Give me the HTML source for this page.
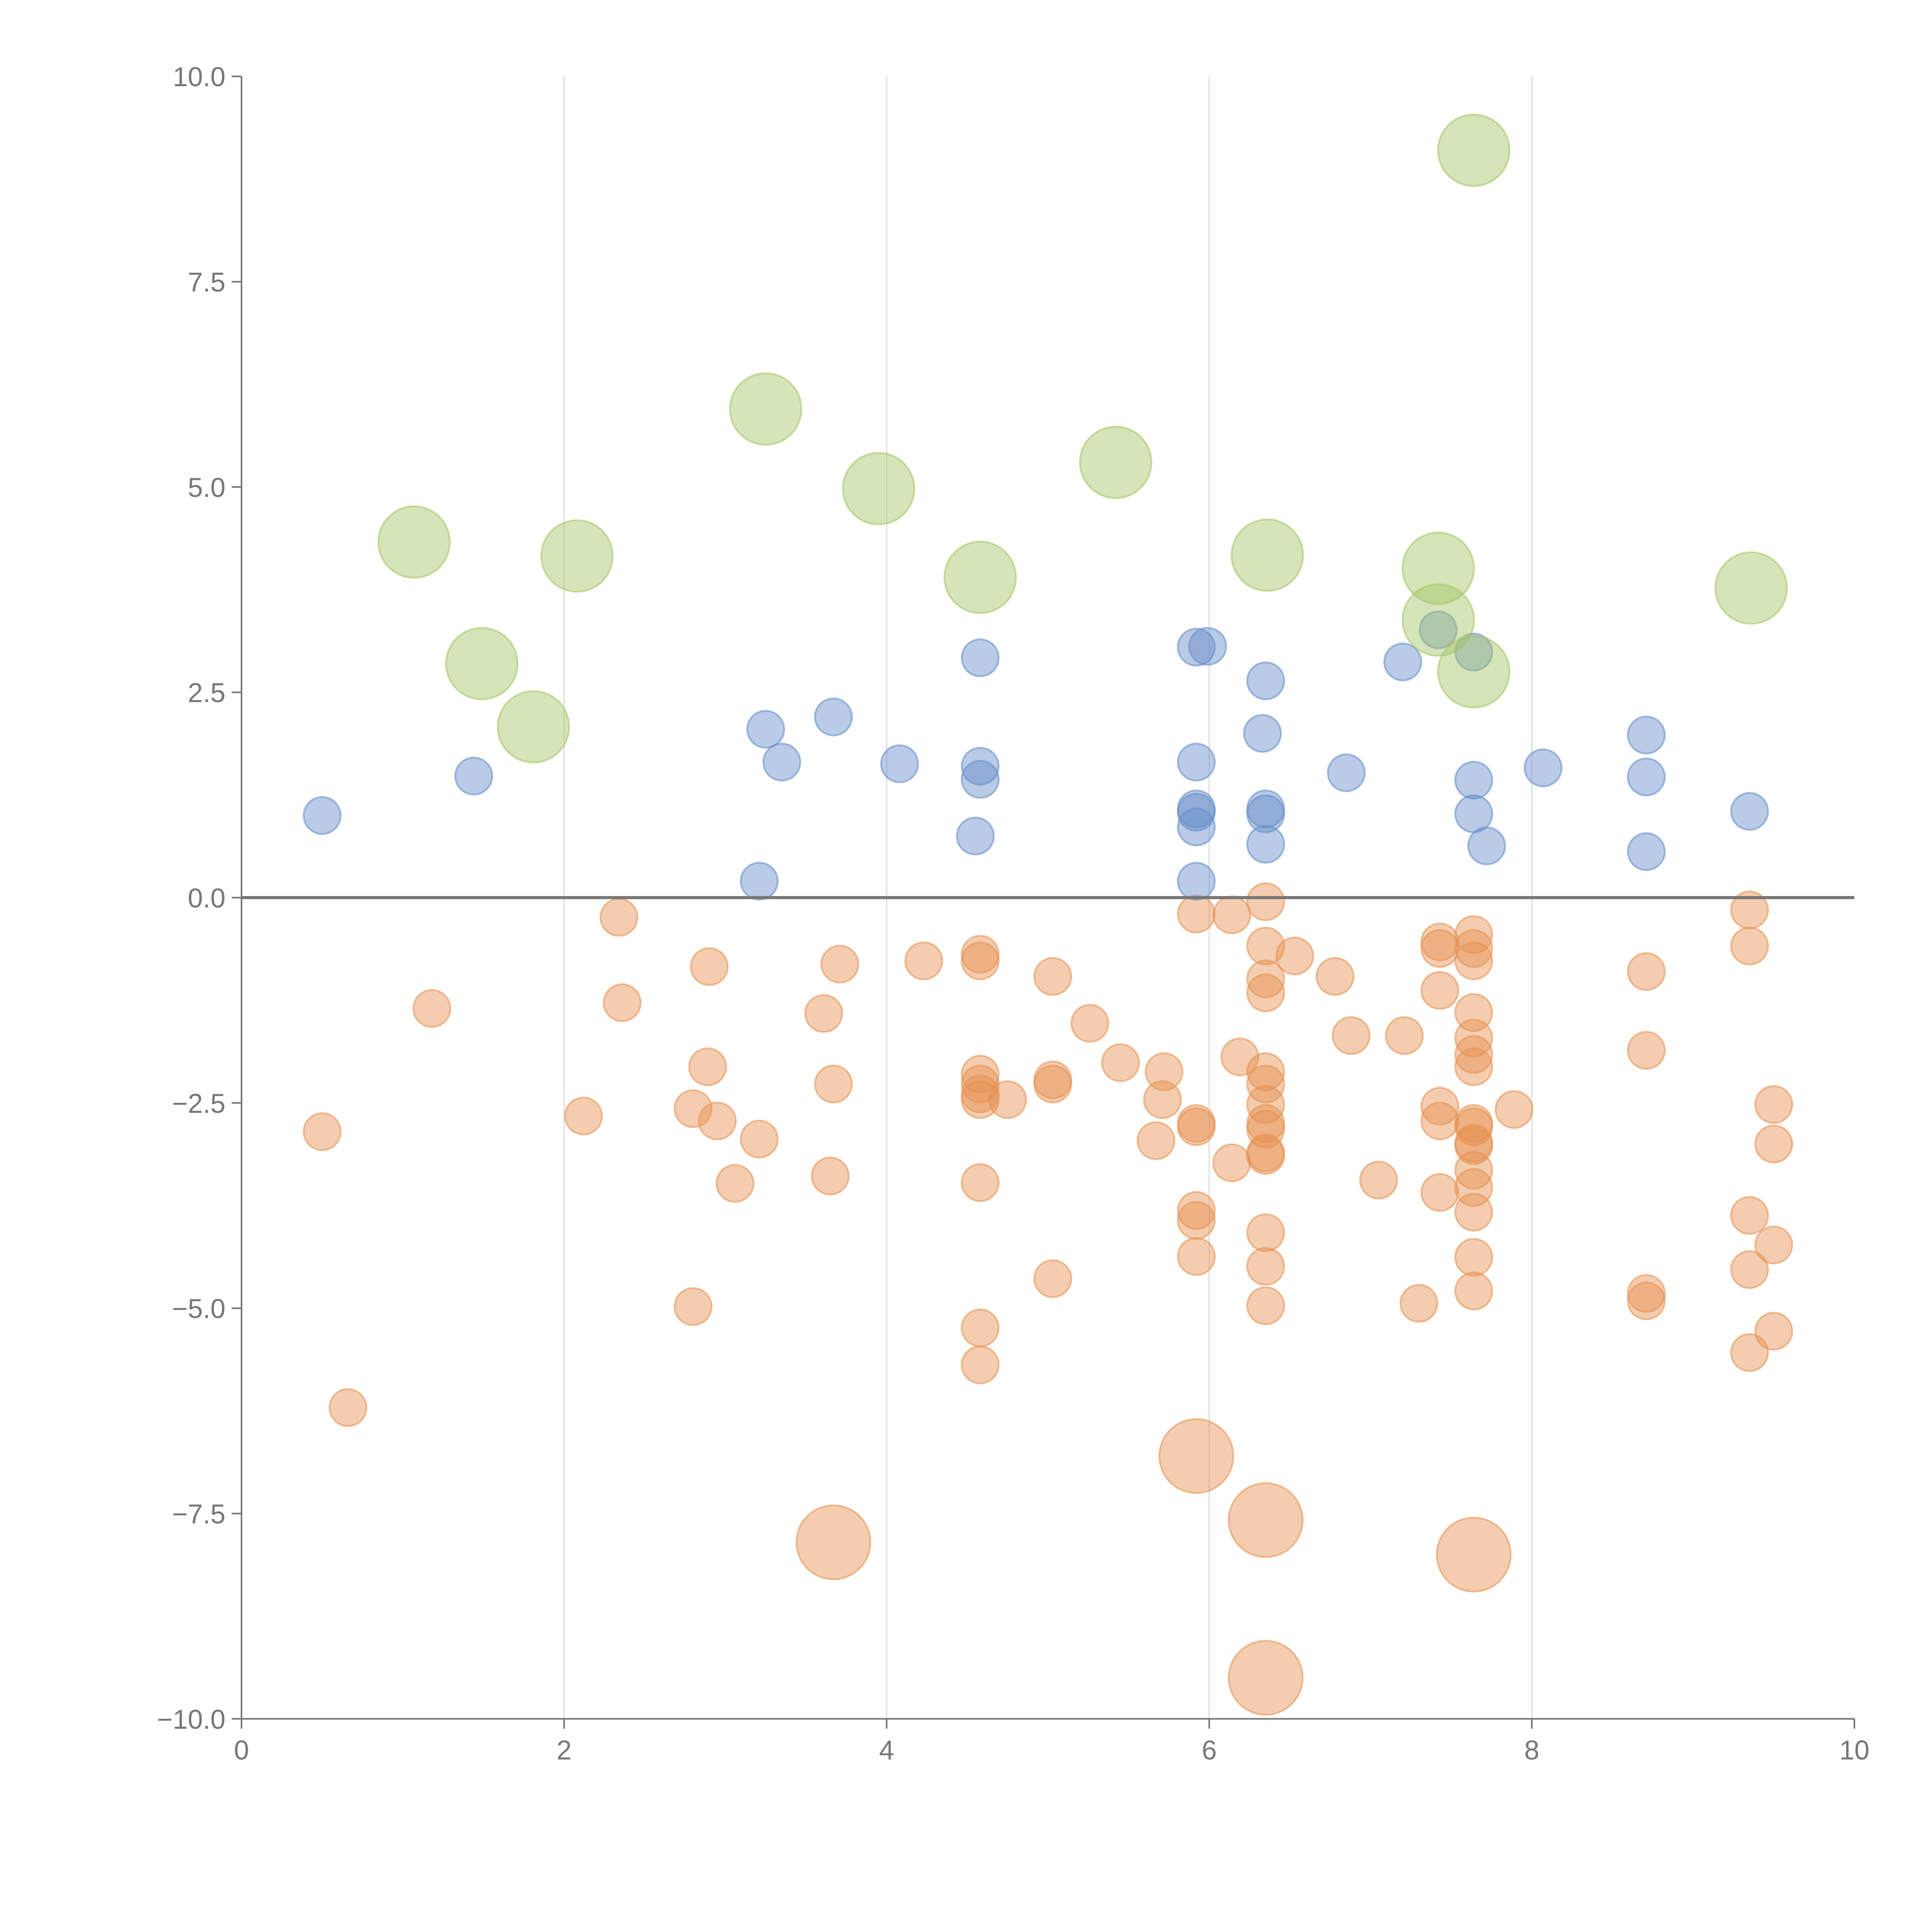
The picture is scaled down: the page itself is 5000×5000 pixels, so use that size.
<!DOCTYPE html>
<html><head><meta charset="utf-8"><style>
html,body{margin:0;padding:0;background:#fff}
svg{display:block}
text{font-family:"Liberation Sans",sans-serif;fill:#777}
</style></head><body>
<svg id="chart" width="5000" height="5000" viewBox="0 0 1568 1568" xmlns="http://www.w3.org/2000/svg">
<g id="grid"></g>
<g id="marks"></g>
<g id="axes"></g>
</svg>
<script>
const xTicks=[0,2,4,6,8,10];
const yTicks=[10,7.5,5,2.5,0,-2.5,-5,-7.5,-10];
const yTickLabels=["10.0","7.5","5.0","2.5","0.0","\u22122.5","\u22125.0","\u22127.5","\u221210.0"];
const greenX=[1.07,1.49,1.81,2.08,3.25,3.95,4.58,5.42,6.36,7.42,7.42,7.64,7.64,9.36];
const greenY=[4.33,2.85,2.08,4.16,5.95,4.98,3.9,5.3,4.17,4.01,3.38,2.75,9.1,3.77];
const blueX=[0.5,1.44,3.21,3.25,3.35,3.67,4.08,4.55,4.58,4.58,4.58,5.92,5.99,5.92,5.92,5.92,5.92,5.92,6.35,6.33,6.35,6.35,6.35,6.85,7.2,7.42,7.64,7.64,7.64,7.72,8.07,8.71,8.71,8.71,9.35];
const blueY=[1.0,1.48,0.2,2.05,1.65,2.2,1.63,0.75,2.92,1.6,1.44,3.05,3.06,1.65,1.08,1.04,0.86,0.2,2.64,2.0,1.08,1.02,0.65,1.52,2.87,3.26,2.99,1.43,1.02,0.63,1.58,1.98,1.47,0.56,1.05];
const orangeX=[0.5,0.66,1.18,2.34,2.36,2.12,2.9,2.89,2.8,2.95,3.06,3.21,2.8,3.61,3.71,3.67,3.65,4.23,4.58,4.58,4.58,4.58,4.58,4.58,4.75,4.58,4.58,4.58,5.03,5.26,5.03,5.03,5.45,5.03,5.72,5.71,5.67,5.92,5.92,5.92,5.92,5.92,5.92,6.14,6.19,6.14,6.35,6.35,6.35,6.35,6.53,6.35,6.35,6.35,6.35,6.35,6.35,6.35,6.35,6.35,6.35,6.78,6.88,7.21,7.05,7.3,7.43,7.43,7.43,7.43,7.43,7.43,7.64,7.64,7.64,7.64,7.64,7.64,7.64,7.64,7.64,7.64,7.64,7.64,7.64,7.64,7.64,7.64,7.89,8.71,8.71,8.71,8.71,9.35,9.35,9.5,9.5,9.35,9.5,9.35,9.5,9.35];
const orangeY=[-2.85,-6.21,-1.35,-0.24,-1.28,-2.66,-0.84,-2.06,-2.57,-2.72,-3.48,-2.94,-4.98,-1.41,-0.81,-2.27,-3.39,-0.77,-0.69,-0.77,-2.15,-2.27,-2.39,-2.46,-2.46,-3.47,-5.24,-5.69,-0.96,-1.53,-2.22,-2.27,-2.01,-4.64,-2.12,-2.46,-2.96,-0.2,-2.75,-2.79,-3.81,-3.93,-4.37,-0.21,-1.94,-3.23,-0.05,-0.59,-0.99,-1.16,-0.71,-2.12,-2.27,-2.52,-2.75,-2.82,-3.11,-3.14,-4.08,-4.49,-4.97,-0.96,-1.68,-1.68,-3.44,-4.94,-0.54,-0.62,-1.13,-2.54,-2.72,-3.59,-0.45,-0.62,-0.77,-1.4,-1.71,-1.91,-2.06,-2.75,-2.79,-2.99,-3.02,-3.32,-3.53,-3.83,-4.38,-4.79,-2.58,-0.9,-1.86,-4.82,-4.91,-0.15,-0.59,-2.52,-3.0,-3.87,-4.23,-4.53,-5.28,-5.54];
const bigOrangeX=[3.67,5.92,6.35,7.64,6.35];
const bigOrangeY=[-7.85,-6.8,-7.58,-8.0,-9.5];

const NS="http://www.w3.org/2000/svg";
const X0=196,X1=1505,Y0=1395,Y1=62;
function sx(v){return X0+(v-0)/(10-0)*(X1-X0);}
function sy(v){return Y0-(v+10)/20*(Y0-Y1);}
function mk(tag,attrs,parent){const e=document.createElementNS(NS,tag);for(const k in attrs)e.setAttribute(k,attrs[k]);parent.appendChild(e);return e;}
const grid=document.getElementById('grid'),marks=document.getElementById('marks'),axes=document.getElementById('axes');
xTicks.forEach(t=>{if(t>0&&t<10){const l=mk('line',{x1:sx(t),x2:sx(t),y1:Y1,y2:Y0,stroke:'#ddd','stroke-width':1},grid);

}});
function series(xs,ys,r,fill,name){xs.forEach((x,i)=>{const c=mk('circle',{cx:sx(x),cy:sy(ys[i]),r:r,fill:fill,'fill-opacity':0.45,stroke:fill,'stroke-opacity':0.55,'stroke-width':1.5},marks);

});}
series(orangeX,orangeY,15,'rgb(230,145,80)','orange-point');
series(bigOrangeX,bigOrangeY,30,'rgb(230,145,80)','orange-big-point');
series(blueX,blueY,15,'rgb(100,140,200)','blue-point');
series(greenX,greenY,29,'rgb(165,196,100)','green-point');
const zl=mk('line',{x1:X0,x2:X1,y1:sy(0),y2:sy(0),stroke:'#777','stroke-width':2.5},axes);


const ya=mk('line',{x1:X0,x2:X0,y1:Y1,y2:Y0,stroke:'#777','stroke-width':1.3},axes);


const xa=mk('line',{x1:X0,x2:X1,y1:Y0,y2:Y0,stroke:'#777','stroke-width':1.3},axes);


xTicks.forEach(t=>{mk('line',{x1:sx(t),x2:sx(t),y1:Y0,y2:Y0+8,stroke:'#777','stroke-width':1.3},axes);
const tx=mk('text',{x:sx(t),y:Y0+33,'text-anchor':'middle','font-size':22},axes);tx.textContent=t;

});
yTicks.forEach((t,i)=>{mk('line',{x1:X0-8,x2:X0,y1:sy(t),y2:sy(t),stroke:'#777','stroke-width':1.3},axes);
const tx=mk('text',{x:X0-13,y:sy(t)+8,'text-anchor':'end','font-size':22},axes);tx.textContent=yTickLabels[i];

});
</script>
</body></html>
